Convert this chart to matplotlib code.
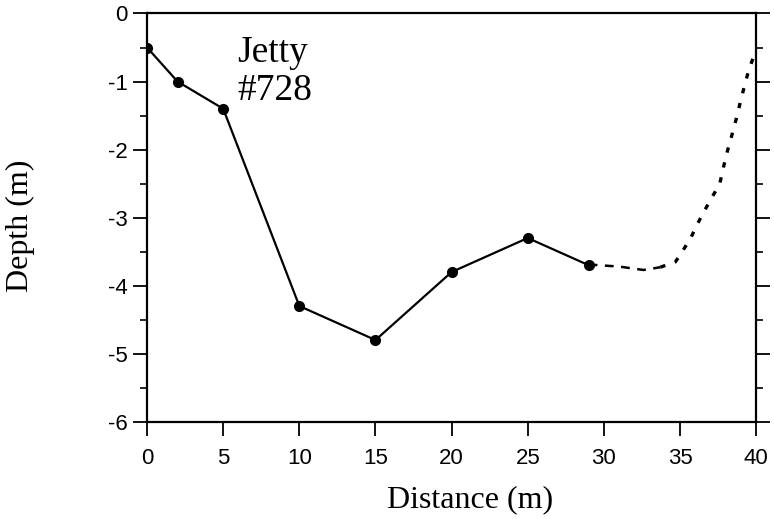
import matplotlib
matplotlib.use("Agg")
import matplotlib.pyplot as plt
from matplotlib.ticker import MultipleLocator

# Measured profile
distance = [0, 2, 5, 10, 15, 20, 25, 29]
depth = [-0.5, -1.0, -1.4, -4.3, -4.8, -3.8, -3.3, -3.7]

# Dashed extension
dash_x = [29, 31, 32.6, 33.7]
dash_y = [-3.69, -3.72, -3.77, -3.73]

# Dotted extension
dot_x = [33.7, 34.7, 35.2, 35.7, 36.15, 36.6, 37.1, 37.6, 37.85, 38.1, 38.4, 38.7, 38.95, 39.2, 39.5, 39.9]
dot_y = [-3.73, -3.65, -3.48, -3.30, -3.09, -2.90, -2.70, -2.51, -2.26, -2.03, -1.79, -1.54, -1.31, -1.09, -0.84, -0.59]

xticks = [0, 5, 10, 15, 20, 25, 30, 35, 40]
yticks = [0, -1, -2, -3, -4, -5, -6]

fig = plt.figure(figsize=(7.74, 5.19), dpi=100)
ax = fig.add_axes([0.19, 0.1875, 0.787, 0.7865])

ax.plot(distance, depth, color="black", lw=1.6, marker="o", markersize=7,
        markerfacecolor="black", markeredgecolor="black")
ax.plot(dash_x, dash_y, color="black", lw=1.8, linestyle=(0, (3.5, 3)))
ax.plot(dot_x, dot_y, color="black", lw=2.4, linestyle=(0, (1.6, 3.0)))

ax.set_xlim(0, 40)
ax.set_ylim(-6, 0)
ax.set_xticks(xticks)
ax.set_yticks(yticks)
ax.yaxis.set_minor_locator(MultipleLocator(0.5))

tick_font = {"family": "Liberation Sans", "size": 16}
ax.set_xticklabels([str(v) for v in xticks], fontdict=tick_font)
ax.set_yticklabels([str(v) for v in yticks], fontdict=tick_font)

ax.tick_params(axis="both", which="major", direction="out", length=10, width=1.3,
               color="black", pad=4)
ax.tick_params(axis="x", which="major", pad=9)
ax.tick_params(axis="y", which="minor", direction="out", length=5, width=1.2)
ax.tick_params(axis="y", which="both", right=True)
ax.tick_params(axis="y", which="major", right=True, labelright=False)

for s in ax.spines.values():
    s.set_linewidth(1.6)

serif = "Liberation Serif"
ax.set_xlabel("Distance (m)", fontfamily=serif, fontsize=23)
ax.xaxis.set_label_coords(0.53, -0.155)
ax.set_ylabel("Depth (m)", fontfamily=serif, fontsize=23)
ax.yaxis.set_label_coords(-0.184, 0.48)

ax.text(5.9, -0.33, "Jetty\n#728", fontfamily=serif, fontsize=27,
        va="top", ha="left", linespacing=1.12)

fig.savefig("out.png", dpi=100)
